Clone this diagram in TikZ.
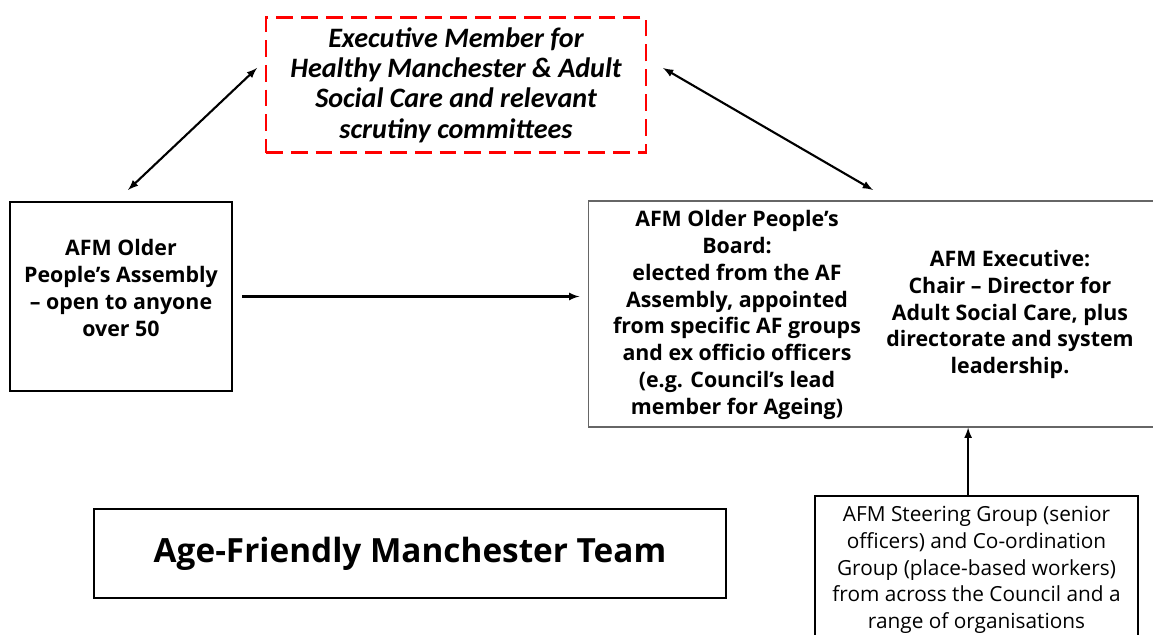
\documentclass[tikz,border=0pt]{standalone}
\usepackage{fontspec}
\setmainfont{Open Sans}
\newfontfamily\calibri{Carlito}
\begin{document}
\begin{tikzpicture}[x=0.025cm, y=-0.025cm, >=latex,
        box/.style={draw, align=center, inner sep=0pt},
        txt/.style={align=center, font=\fontsize{15.2}{19.1}\selectfont\bfseries},
        link/.style={line width=1.5pt}]
        \useasboundingbox (0,0) rectangle (1153,635);
        \clip (0,0) rectangle (1153,635);

        % upper box
        \node[box, draw=red, line width=1.6pt, dash pattern=on 0.42cm off 0.2cm,
              minimum width=9.5cm, minimum height=3.375cm,
              font=\calibri\fontsize{20}{21.5}\selectfont\bfseries\itshape] (exec) at (456,85)
              {Executive Member for\\Healthy Manchester \& Adult\\Social Care and relevant\\scrutiny committees};

        % assembly and board
        \node[box, line width=1.5pt, minimum width=5.55cm, minimum height=4.725cm] (assembly) at (121,296.5) {};
        \node[txt] (assemblytxt) at (121,288) {AFM Older\\People’s Assembly\\– open to anyone\\over 50};

        \node[box, draw=black!60, line width=0.8pt, minimum width=14.4cm, minimum height=5.65cm] (board) at (877,314) {};
        \node[txt] (boardtxt) at (737,315) {AFM Older People’s\\Board:\\elected from the AF\\Assembly, appointed\\from specific AF groups\\and ex officio officers\\(e.g. Council’s lead\\member for Ageing)};
        \node[txt] (afmexec) at (1010,314.5) {AFM Executive:\\Chair – Director for\\Adult Social Care, plus\\directorate and system\\leadership.};

        % bottom boxes
        \node[box, line width=1.2pt, minimum width=15.8cm, minimum height=2.225cm,
              font=\fontsize{23.7}{28}\selectfont\bfseries] (team) at (410,553.5) {Age-Friendly Manchester Team};
        \node[box, line width=1pt, minimum width=8.075cm, minimum height=3.85cm] (steering) at (976.5,573) {};
        \node[align=center, font=\fontsize{14.8}{18.9}\selectfont] (steeringtxt) at (976.5,570)
              {AFM Steering Group (senior\\officers) and Co-ordination\\Group (place-based workers)\\from across the Council and a\\range of organisations};

        % connectors
        \coordinate (asmtop) at (128,190);
        \coordinate (execleft) at (257,68);
        \coordinate (execright) at (663,68);
        \coordinate (boardtop) at (873,190);
        \draw[<->, link] (asmtop) -- (execleft);
        \draw[<->, link] (execright) -- (boardtop);
        \draw[->, link] ([xshift=0.225cm]assembly.east) -- ([xshift=-0.225cm]board.west |- assembly.east);
        \draw[->, link] ([xshift=-0.21cm]steering.north) -- ([xshift=-0.21cm]steering.north |- board.south);
    \end{tikzpicture}
\end{document}
